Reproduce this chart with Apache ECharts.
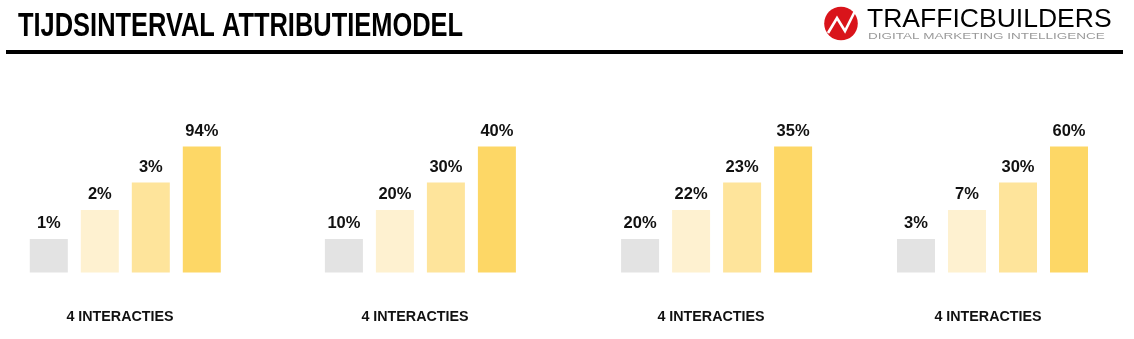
<!DOCTYPE html>
<html>
<head>
<meta charset="utf-8">
<script src="https://cdn.jsdelivr.net/npm/echarts@6/dist/echarts.min.js"></script>
<style>
html,body{margin:0;padding:0;background:#fff;}
#chart{width:1134px;height:339px;}
</style>
</head>
<body>
<div id="chart"></div>
<script>
// ---- data ----
var chartTitle = 'TIJDSINTERVAL ATTRIBUTIEMODEL';
var groupLabels = ['4 INTERACTIES', '4 INTERACTIES', '4 INTERACTIES', '4 INTERACTIES'];
var positions = ['1', '2', '3', '4'];
var group1 = [1, 2, 3, 94];
var group2 = [10, 20, 30, 40];
var group3 = [20, 22, 23, 35];
var group4 = [3, 7, 30, 60];
// bar heights are drawn as a fixed rising step (rank), not proportional to the labels
var stepHeights = [26.6, 49.6, 71.4, 100];

var groups = [group1, group2, group3, group4];
var barColors = ['#e3e3e3', '#fef1d0', '#fee49b', '#fdd766'];
var gridLefts = [23.3, 318.4, 614.6, 890.5];
var labelCenters = [120, 415, 711, 988];

var chart = echarts.init(document.getElementById('chart'), null, {renderer: 'canvas'});

var grids = [], xAxes = [], yAxes = [], series = [], graphics = [];
groups.forEach(function (vals, g) {
  grids.push({left: gridLefts[g], top: 146.5, width: 204, height: 126});
  xAxes.push({type: 'category', gridIndex: g, data: positions, show: false});
  yAxes.push({type: 'value', gridIndex: g, min: 0, max: 100, show: false});
  series.push({
    type: 'bar',
    xAxisIndex: g,
    yAxisIndex: g,
    barWidth: 38,
    animation: false,
    data: stepHeights.map(function (h, i) {
      return {value: h, itemStyle: {color: barColors[i]}};
    }),
    label: {
      show: true,
      position: 'top',
      distance: 7,
      formatter: function (p) { return vals[p.dataIndex] + '%'; },
      fontFamily: '"Liberation Sans", Arial, sans-serif',
      fontWeight: 'bold',
      fontSize: 16.5,
      color: '#111'
    }
  });
  graphics.push({
    type: 'text',
    x: labelCenters[g],
    y: 310.5,
    style: {
      text: groupLabels[g],
      align: 'center',
      verticalAlign: 'top',
      font: 'bold 14.3px "Liberation Sans", Arial, sans-serif',
      fill: '#111'
    }
  });
});

// header
graphics.push({
  type: 'text',
  x: 18,
  y: 9.5,
  scaleX: 0.748,
  style: {
    text: chartTitle,
    font: 'bold 34px "Liberation Sans", Arial, sans-serif',
    fill: '#000',
    verticalAlign: 'top'
  }
});
graphics.push({
  type: 'rect',
  shape: {x: 6, y: 50, width: 1117, height: 4},
  style: {fill: '#000'}
});
// logo
graphics.push({
  type: 'circle',
  shape: {cx: 841, cy: 23.5, r: 16.8},
  style: {fill: '#d9141b'}
});
graphics.push({
  type: 'polyline',
  shape: {points: [[828, 33], [837, 18], [845, 31], [855, 11]]},
  style: {stroke: '#fff', lineWidth: 2.6, fill: null, lineJoin: 'miter'}
});
graphics.push({
  type: 'text',
  x: 867,
  y: 7,
  scaleX: 1.02,
  style: {
    text: '{a|TRAFFIC}{b|BUILDERS}',
    verticalAlign: 'top',
    rich: {
      a: {fontFamily: '"Liberation Sans", Arial, sans-serif', fontSize: 26, color: '#8a8a8a'},
      b: {fontFamily: '"Liberation Sans", Arial, sans-serif', fontSize: 26, color: '#3a3a3a'}
    }
  }
});
graphics.push({
  type: 'text',
  x: 868,
  y: 32,
  scaleX: 1.5,
  style: {
    text: 'DIGITAL MARKETING INTELLIGENCE',
    verticalAlign: 'top',
    font: '9px "Liberation Sans", Arial, sans-serif',
    fill: '#9a9a9a'
  }
});

chart.setOption({
  backgroundColor: '#fff',
  animation: false,
  grid: grids,
  xAxis: xAxes,
  yAxis: yAxes,
  series: series,
  graphic: graphics
});
</script>
</body>
</html>
